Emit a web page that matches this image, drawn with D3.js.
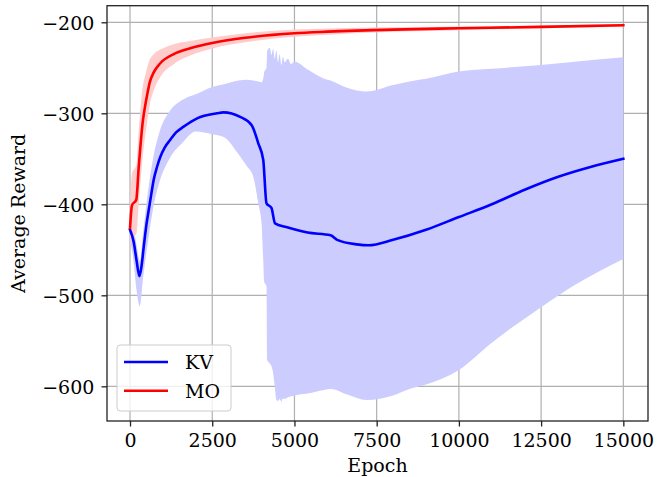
<!DOCTYPE html>
<html>
<head>
<meta charset="utf-8">
<script src="https://cdn.jsdelivr.net/npm/d3@7"></script>
<style>
  body { margin: 0; background: #fff; }
  text { font-family: "DejaVu Serif", serif; fill: #000; }
</style>
</head>
<body>
<div id="chart"></div>
<script>
// KV mean curve
const kvEpochs = [0, 110, 200, 283, 350, 416, 500, 570, 650, 720, 820, 920, 1050, 1226, 1400, 1630, 2040, 2650, 2840, 3350, 3700, 3900, 4050, 4150, 4300, 4410, 4750, 5400, 6100, 6300, 6900, 7250, 8000, 9000, 10000, 11000, 12000, 13000, 14000, 15000];
const kvMean = [-428, -441, -462, -479, -468, -447, -422, -406, -388, -373, -359, -348, -338, -329, -321, -314.7, -305.5, -300, -299, -304, -313, -333, -351, -399, -404, -421, -425, -431, -434, -439, -444, -445, -439, -428, -414, -400, -384, -370, -359, -350];

// KV shaded band
const kvBandEpochs = [0, 100, 200, 300, 400, 550, 700, 900, 1200, 1600, 2000, 2500, 2850, 3300, 3550, 3750, 3900, 4000, 4050, 4080, 4150, 4170, 4250, 4300, 4350, 4400, 4450, 4500, 4550, 4600, 4650, 4700, 4800, 4900, 5000, 5400, 5900, 6100, 6600, 7200, 8000, 8500, 9000, 10000, 11000, 12500, 13600, 15000];
const kvUpper = [-418, -425, -445, -462, -430, -385, -350, -320, -298, -285, -279, -271, -268, -264, -263, -264, -265, -266, -262, -255, -250, -232, -228, -236, -229, -240, -231, -244, -235, -247, -238, -244, -240, -246, -243, -252, -262, -264, -272, -276, -269, -265, -262, -254, -251, -247, -243, -238.5];
const kvLower = [-440, -460, -495, -512, -480, -440, -405, -375, -350, -332, -320, -323, -326, -345, -358, -370, -399, -421, -461, -485, -490, -571, -575, -578, -585, -600, -615, -616, -614, -617, -613, -614, -612, -611, -610, -608, -604, -603, -609, -615, -610, -603, -598, -582, -552, -513, -487, -460];

// MO mean curve and band half-width
const moEpochs = [0, 60, 190, 265, 395, 450, 520, 600, 720, 920, 1330, 1830, 2540, 3500, 5000, 6000, 8000, 10000, 12500, 15000];
const moMean = [-426, -401, -395, -359, -307, -294, -280, -266, -255, -245, -235, -228.6, -222.5, -217, -212, -210.3, -208, -206.6, -205, -203.3];
const moStd = [25, 35, 38, 40, 38, 34, 30, 25, 20, 15, 11, 8, 6, 5, 4, 3.5, 2.5, 2, 1.5, 1.5];

const xTicks = [0, 2500, 5000, 7500, 10000, 12500, 15000];
const yTicks = [-600, -500, -400, -300, -200];
const seriesNames = ["KV", "MO"];

const W = 657, H = 477;
const plot = {left: 107, right: 648, top: 5.7, bottom: 421};

const svg = d3.select("#chart").append("svg")
  .attr("width", W).attr("height", H);

const x = d3.scaleLinear().domain([-700, 15750]).range([plot.left, plot.right]);
const y = d3.scaleLinear().domain([-638.1, -181.76]).range([plot.bottom, plot.top]);

// grid
const grid = svg.append("g");
grid.selectAll(".gx").data(xTicks).enter().append("line")
  .attr("x1", d => x(d)).attr("x2", d => x(d))
  .attr("y1", plot.top).attr("y2", plot.bottom)
  .attr("stroke", "#b0b0b0").attr("stroke-width", 1.2);
grid.selectAll(".gy").data(yTicks).enter().append("line")
  .attr("y1", d => y(d)).attr("y2", d => y(d))
  .attr("x1", plot.left).attr("x2", plot.right)
  .attr("stroke", "#b0b0b0").attr("stroke-width", 1.2);

// bands
const kvBand = kvBandEpochs.map((e, i) => ({e: e, lo: kvLower[i], hi: kvUpper[i]}));
const moBand = moEpochs.map((e, i) => ({e: e, lo: moMean[i] - moStd[i], hi: moMean[i] + moStd[i]}));
const area = d3.area().curve(d3.curveMonotoneX)
  .x(d => x(d.e)).y0(d => y(d.lo)).y1(d => y(d.hi));
svg.append("path").datum(kvBand).attr("d", area).attr("fill", "#ccccff");
svg.append("path").datum(moBand).attr("d", area).attr("fill", "#ffcccc");

// lines
const line = d3.line().curve(d3.curveMonotoneX).x(d => x(d[0])).y(d => y(d[1]));
svg.append("path").datum(kvEpochs.map((e, i) => [e, kvMean[i]]))
  .attr("d", line).attr("fill", "none").attr("stroke", "#0000ff")
  .attr("stroke-width", 2.6).attr("stroke-linejoin", "round").attr("stroke-linecap", "square");
svg.append("path").datum(moEpochs.map((e, i) => [e, moMean[i]]))
  .attr("d", line).attr("fill", "none").attr("stroke", "#ff0000")
  .attr("stroke-width", 2.6).attr("stroke-linejoin", "round").attr("stroke-linecap", "square");

// axes
const fmt = d3.format("d");
const gx = svg.append("g").attr("transform", "translate(0," + plot.bottom + ")")
  .call(d3.axisBottom(x).tickValues(xTicks).tickFormat(fmt).tickSize(5.5).tickPadding(7.5));
const gy = svg.append("g").attr("transform", "translate(" + plot.left + ",0)")
  .call(d3.axisLeft(y).tickValues(yTicks).tickFormat(fmt).tickSize(5.5).tickPadding(7.2));
[gx, gy].forEach(g => {
  g.select(".domain").remove();
  g.selectAll(".tick line").attr("stroke", "#222").attr("stroke-width", 1.3);
  g.selectAll(".tick text").style("font-family", "DejaVu Serif").style("font-size", "19px").attr("fill", "#000");
});
gy.selectAll(".tick text").attr("dy", "0.38em");

// spines
svg.append("rect")
  .attr("x", plot.left).attr("y", plot.top)
  .attr("width", plot.right - plot.left).attr("height", plot.bottom - plot.top)
  .attr("fill", "none").attr("stroke", "#222").attr("stroke-width", 1.3);

// axis labels
svg.append("text")
  .attr("x", (plot.left + plot.right) / 2).attr("y", 472)
  .attr("text-anchor", "middle").style("font-size", "19px")
  .text("Epoch");
svg.append("text")
  .attr("transform", "translate(25," + (plot.top + plot.bottom) / 2 + ") rotate(-90)")
  .attr("text-anchor", "middle").style("font-size", "19px")
  .text("Average Reward");

// legend
const leg = svg.append("g");
leg.append("rect")
  .attr("x", 117).attr("y", 345).attr("width", 114).attr("height", 66)
  .attr("rx", 3).attr("fill", "#fff").attr("fill-opacity", 0.8)
  .attr("stroke", "#cccccc").attr("stroke-width", 1);
const legColors = ["#0000ff", "#ff0000"];
seriesNames.forEach((name, i) => {
  const ly = 362 + i * 28.8;
  leg.append("line").attr("x1", 124).attr("x2", 168).attr("y1", ly).attr("y2", ly)
    .attr("stroke", legColors[i]).attr("stroke-width", 2.6);
  leg.append("text").attr("x", 185).attr("y", ly).attr("dy", "0.36em")
    .style("font-size", "19px").text(name);
});
</script>
</body>
</html>
